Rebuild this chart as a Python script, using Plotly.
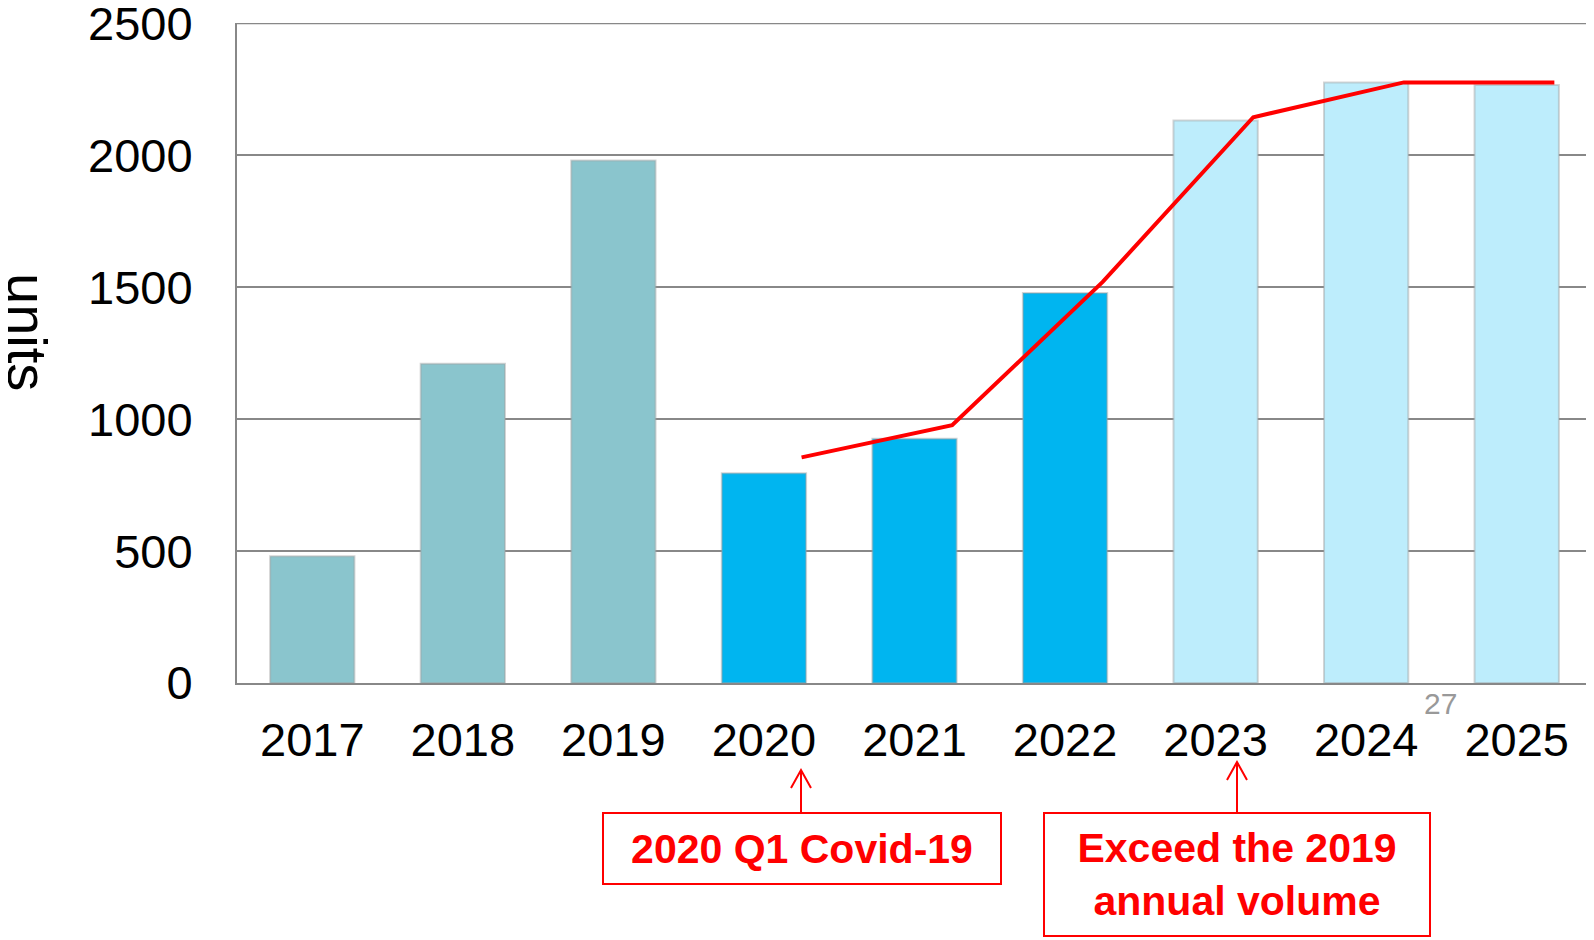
import plotly.graph_objects as go

years = ["2017", "2018", "2019", "2020", "2021", "2022", "2023", "2024", "2025"]
units = [480, 1210, 1980, 795, 926, 1478, 2132, 2276, 2266]
bar_colors = ["#8AC5CD"] * 3 + ["#00B5F0"] * 3 + ["#BDEDFC"] * 3

trend_years = ["2020", "2021", "2022", "2023", "2024", "2025"]
trend_units = [855, 977, 1520, 2144, 2276, 2276]

FONT = "Liberation Sans, Arial, sans-serif"
RED = "#FF0000"
GRID = "#888888"

# the page body adds an 8px offset, so the figure is drawn 8px smaller
OFF = 8
W, H = 1594 - OFF, 940 - OFF
# plot area in screen pixels: x 237..1592, y 23..683
L, R, T, B = 237 - OFF, 2, 23 - OFF, 940 - 683
PW, PH = W - L - R, H - T - B


def px(x):
    return (x - OFF - L) / PW


def py(y):
    return (H - B - (y - OFF)) / PH


fig = go.Figure()
fig.add_trace(go.Bar(
    x=years, y=units,
    marker=dict(color=bar_colors, line=dict(color="rgba(160,160,160,0.45)", width=2)),
    width=0.56,
    hoverinfo="x+y",
))
# trend line sits a quarter category to the right of the bars
fig.add_trace(go.Scatter(
    x=trend_years, y=trend_units, xaxis="x2",
    mode="lines", line=dict(color=RED, width=4),
))

fig.update_layout(
    width=W, height=H,
    margin=dict(l=L, r=R, t=T, b=B),
    plot_bgcolor="white", paper_bgcolor="white",
    showlegend=False,
    font=dict(family=FONT, size=47, color="black"),
    xaxis=dict(
        type="category", range=[-0.5, 8.5], showgrid=False, automargin=False,
        showline=True, linecolor=GRID, linewidth=2,
        ticks="", ticklabelstandoff=15,
        tickfont=dict(size=47),
    ),
    xaxis2=dict(
        type="category", categoryorder="array", categoryarray=years,
        overlaying="x", range=[-0.75, 8.25], visible=False,
    ),
    yaxis=dict(
        range=[0, 2501], tickvals=[0, 500, 1000, 1500, 2000, 2500],
        showgrid=True, gridcolor=GRID, gridwidth=2, automargin=False,
        showline=True, linecolor=GRID, linewidth=2, zeroline=False,
        ticks="", ticklabelstandoff=33, ticklabeloverflow="allow",
        tickfont=dict(size=47),
    ),
)

# top gridline (plotly drops gridlines sitting on the plot edge)
fig.add_shape(type="line", xref="paper", yref="y", x0=0, x1=1, y0=2500, y1=2500,
              line=dict(color=GRID, width=2), layer="below")

fig.add_annotation(
    text="units", xref="paper", yref="paper", x=px(28), y=py(332),
    xanchor="center", yanchor="middle",
    textangle=90, showarrow=False, font=dict(size=56, color="black"),
)
fig.add_annotation(
    text="27", xref="paper", yref="paper", x=px(1440), y=py(703),
    xanchor="center", yanchor="middle",
    showarrow=False, font=dict(size=30, color="#999999"),
)

# callout boxes with arrows pointing up at the year labels
fig.add_annotation(
    text="<b>2020 Q1 Covid-19</b>", xref="paper", yref="paper",
    x=px(802), y=py(848.5), xanchor="center", yanchor="middle",
    showarrow=False, font=dict(size=41, color=RED),
    bordercolor=RED, borderwidth=2, borderpad=12, width=372, height=45,
    bgcolor="white",
)
fig.add_annotation(
    text="<b>Exceed the 2019<br>annual volume</b>", xref="paper", yref="paper",
    x=px(1237), y=py(874.5), xanchor="center", yanchor="middle",
    showarrow=False, font=dict(size=41, color=RED),
    bordercolor=RED, borderwidth=2, borderpad=12, width=360, height=97,
    bgcolor="white",
)


def open_arrow(x, tip, base):
    # thin shaft with an open "V" head
    path = (f"M {px(x)} {py(base)} L {px(x)} {py(tip)} "
            f"M {px(x - 10)} {py(tip + 18)} L {px(x)} {py(tip)} L {px(x + 10)} {py(tip + 18)}")
    fig.add_shape(type="path", xref="paper", yref="paper", path=path,
                  line=dict(color=RED, width=2))


open_arrow(801, 770, 813)
open_arrow(1237, 762, 813)

fig.write_html("out.html")
